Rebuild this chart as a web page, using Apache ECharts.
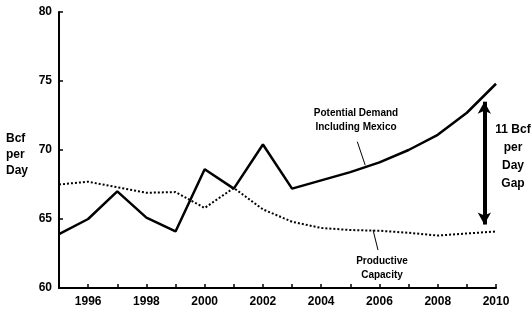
<!DOCTYPE html>
<html>
<head>
    <meta charset="utf-8">
    <title>Bcf per Day</title>
    <script src="https://cdn.jsdelivr.net/npm/echarts@6/dist/echarts.min.js"></script>
</head>
<body style="margin:0;background:#fff;">
<div id="chart1" style="width:532px;height:313px;"></div>

<script>
    // 数据
    var years = [1995, 1996, 1997, 1998, 1999, 2000, 2001, 2002, 2003, 2004, 2005, 2006, 2007, 2008, 2009, 2010];
    var demand = [63.9, 65.0, 67.0, 65.1, 64.1, 68.6, 67.2, 70.4, 67.2, 67.8, 68.4, 69.1, 70.0, 71.1, 72.7, 74.8];
    var capacity = [67.5, 67.7, 67.3, 66.9, 66.95, 65.8, 67.25, 65.7, 64.8, 64.35, 64.2, 64.15, 64.0, 63.8, 63.95, 64.1];
    var yTicks = [60, 65, 70, 75, 80];

    var font = 'Liberation Sans, Arial, sans-serif';

    var myChart1 = echarts.init(document.getElementById('chart1'));
    myChart1.setOption({
        animation: false,
        grid: {left: 59, right: 36, top: 12, bottom: 25},
        xAxis: {
            type: 'value',
            min: years[0],
            max: years[years.length - 1],
            interval: 1,
            splitLine: {show: false},
            axisLine: {lineStyle: {color: '#000', width: 2}},
            axisTick: {inside: true, length: 4, lineStyle: {color: '#000', width: 1.5}},
            axisLabel: {
                color: '#000', fontFamily: font, fontWeight: 'bold', fontSize: 12, margin: 8,
                formatter: function (v) { return v % 2 === 0 ? String(v) : ''; }
            }
        },
        yAxis: {
            type: 'value',
            min: yTicks[0],
            max: yTicks[yTicks.length - 1],
            interval: 5,
            splitLine: {show: false},
            axisLine: {show: true, lineStyle: {color: '#000', width: 2}},
            axisTick: {show: true, inside: true, length: 4, lineStyle: {color: '#000', width: 1.5}},
            axisLabel: {color: '#000', fontFamily: font, fontWeight: 'bold', fontSize: 12, margin: 7}
        },
        graphic: [
            {type: 'text', x: 6, y: 131, style: {text: 'Bcf\nper\nDay', fill: '#000', font: 'bold 12px ' + font, lineHeight: 16}},
            {type: 'text', x: 513, y: 121, style: {text: '11 Bcf\nper\nDay\nGap', fill: '#000', font: 'bold 12px ' + font, lineHeight: 18, align: 'center'}},
            {type: 'text', x: 356, y: 106, style: {text: 'Potential Demand\nIncluding Mexico', fill: '#000', font: 'bold 10px ' + font, lineHeight: 14, align: 'center'}},
            {type: 'text', x: 382, y: 254, style: {text: 'Productive\nCapacity', fill: '#000', font: 'bold 10px ' + font, lineHeight: 14, align: 'center'}}
        ],
        series: [{
            name: 'Potential Demand Including Mexico',
            type: 'line',
            data: years.map(function (y, i) { return [y, demand[i]]; }),
            symbol: 'none',
            lineStyle: {color: '#000', width: 2.5},
            markLine: {
                silent: true,
                symbol: ['none', 'none'],
                label: {show: false},
                lineStyle: {color: '#000', width: 1, type: 'solid'},
                data: [
                    [{coord: [2005.24, 70.6]}, {coord: [2005.51, 68.9]}]
                ]
            }
        }, {
            name: 'Productive Capacity',
            type: 'line',
            data: years.map(function (y, i) { return [y, capacity[i]]; }),
            symbol: 'none',
            lineStyle: {color: '#000', width: 2, type: [2, 2]},
            markLine: {
                silent: true,
                label: {show: false},
                data: [
                    [{coord: [2005.78, 64.2], symbol: 'none'}, {coord: [2005.95, 62.75], symbol: 'none'}],
                    [{coord: [2009.6, 64.6], symbol: 'arrow', symbolSize: [10, 12], lineStyle: {width: 4}},
                     {coord: [2009.6, 73.5], symbol: 'arrow', symbolSize: [10, 12]}]
                ],
                lineStyle: {color: '#000', width: 1, type: 'solid'}
            }
        }]
    });
</script>
</body>
</html>
